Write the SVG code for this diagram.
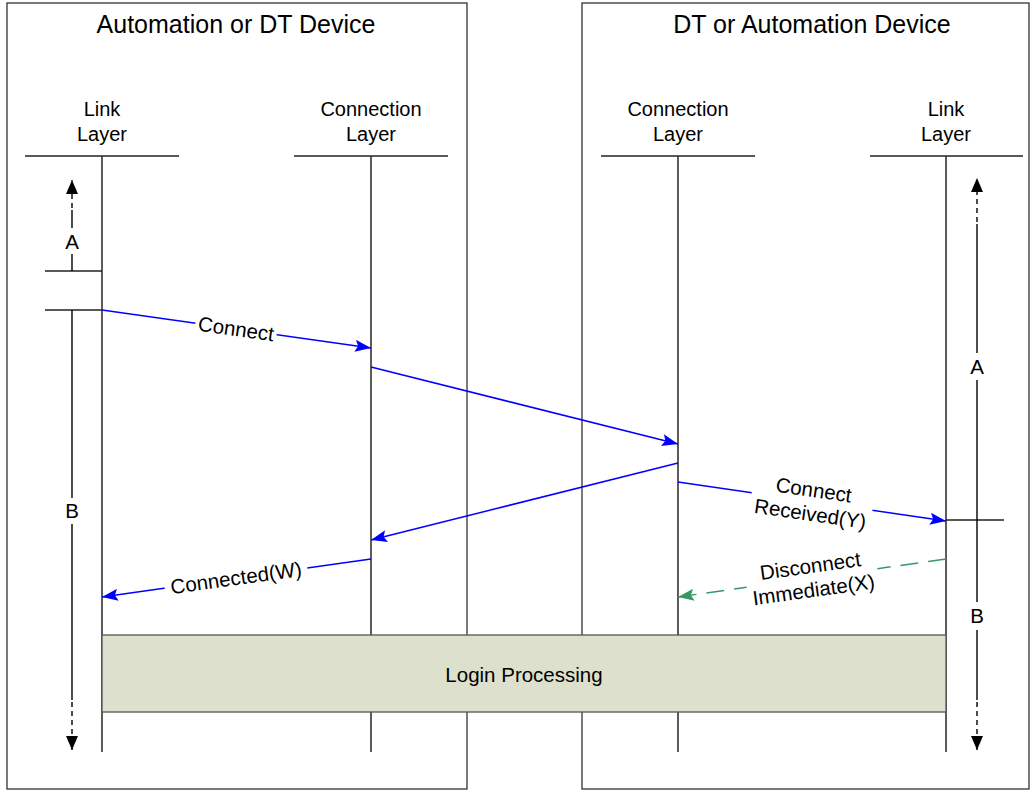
<svg xmlns="http://www.w3.org/2000/svg" width="1032" height="792" viewBox="0 0 1032 792">
<defs>
<style>
text{font-family:"Liberation Sans",Arial,sans-serif;fill:#000}
.title{font-size:25px;text-anchor:middle}
.hdr{font-size:20px;text-anchor:middle}
.lbl{font-size:20.5px;text-anchor:middle}
.frame{fill:#fff;stroke:#222;stroke-width:1.2}
.life{stroke:#333;stroke-width:1.6;fill:none}
.hline{stroke:#222;stroke-width:1.3}
.msg{stroke:#0000ff;stroke-width:1.5;fill:none;marker-end:url(#ab)}
.msgg{stroke:#339966;stroke-width:1.5;fill:none;stroke-dasharray:18,10;marker-end:url(#ag)}
.span{stroke:#000;stroke-width:1.4;fill:none}
.dash{stroke:#000;stroke-width:1.4;fill:none;stroke-dasharray:5,4}
</style>
<marker id="ab" markerWidth="16" markerHeight="12" refX="16" refY="6" orient="auto" markerUnits="userSpaceOnUse"><path d="M0,0 L16,6 L0,12 L3,6 Z" fill="#0000ff"/></marker>
<marker id="ag" markerWidth="16" markerHeight="12" refX="16" refY="6" orient="auto" markerUnits="userSpaceOnUse"><path d="M0,0 L16,6 L0,12 L3,6 Z" fill="#339966"/></marker>
<marker id="ak" markerWidth="14" markerHeight="12" refX="14" refY="6" orient="auto" markerUnits="userSpaceOnUse"><path d="M0,0 L14,6 L0,12 Z" fill="#000"/></marker>
</defs>
<rect width="1032" height="792" fill="#fff"/>

<g id="device-left">
<rect class="frame" x="7" y="3" width="460" height="786"/>
<text class="title" x="236" y="33">Automation or DT Device</text>
</g>
<g id="device-right">
<rect class="frame" x="582" y="3" width="447" height="786"/>
<text class="title" x="812" y="33">DT or Automation Device</text>
</g>

<g id="link-layer-left">
<text class="hdr" x="102" y="116">Link</text>
<text class="hdr" x="102" y="141">Layer</text>
<line class="hline" x1="25" y1="156" x2="179" y2="156"/>
<line class="life" x1="102" y1="156" x2="102" y2="752"/>
</g>
<g id="connection-layer-left">
<text class="hdr" x="371" y="116">Connection</text>
<text class="hdr" x="371" y="141">Layer</text>
<line class="hline" x1="294" y1="156" x2="448" y2="156"/>
<line class="life" x1="371" y1="156" x2="371" y2="752"/>
</g>
<g id="connection-layer-right">
<text class="hdr" x="678" y="116">Connection</text>
<text class="hdr" x="678" y="141">Layer</text>
<line class="hline" x1="601" y1="156" x2="755" y2="156"/>
<line class="life" x1="678" y1="156" x2="678" y2="752"/>
</g>
<g id="link-layer-right">
<text class="hdr" x="946" y="116">Link</text>
<text class="hdr" x="946" y="141">Layer</text>
<line class="hline" x1="870" y1="156" x2="1023" y2="156"/>
<line class="life" x1="946" y1="156" x2="946" y2="752"/>
</g>

<g id="timer-left">
<line class="hline" x1="45" y1="271" x2="102" y2="271"/>
<line class="hline" x1="45" y1="310" x2="102" y2="310"/>
<line class="span" x1="72" y1="271" x2="72" y2="254"/>
<text class="lbl" x="72" y="249">A</text>
<line class="span" x1="72" y1="228" x2="72" y2="210"/>
<line class="dash" x1="72" y1="208" x2="72" y2="180" marker-end="url(#ak)"/>
<line class="span" x1="72" y1="310" x2="72" y2="498"/>
<text class="lbl" x="72" y="518">B</text>
<line class="span" x1="72" y1="524" x2="72" y2="700"/>
<line class="dash" x1="72" y1="702" x2="72" y2="750" marker-end="url(#ak)"/>
</g>

<g id="timer-right">
<line class="hline" x1="946" y1="520" x2="1004" y2="520"/>
<line class="dash" x1="977" y1="222" x2="977" y2="178" marker-end="url(#ak)"/>
<line class="span" x1="977" y1="224" x2="977" y2="353"/>
<text class="lbl" x="977" y="374">A</text>
<line class="span" x1="977" y1="380" x2="977" y2="520"/>
<line class="span" x1="977" y1="520" x2="977" y2="602"/>
<text class="lbl" x="977" y="623">B</text>
<line class="span" x1="977" y1="630" x2="977" y2="700"/>
<line class="dash" x1="977" y1="702" x2="977" y2="750" marker-end="url(#ak)"/>
</g>

<g id="connectors">
<line class="msg" x1="102" y1="310" x2="371" y2="348"/>
<line class="msg" x1="371" y1="367" x2="678" y2="444"/>
<line class="msg" x1="678" y1="463" x2="371" y2="540"/>
<line class="msg" x1="678" y1="482" x2="946" y2="521"/>
<line class="msg" x1="371" y1="559" x2="102" y2="597"/>
<line class="msgg" x1="946" y1="559" x2="678" y2="597"/>
<g transform="translate(236,329) rotate(8)">
<rect x="-41" y="-11" width="82" height="22" fill="#fff"/>
<text class="lbl" x="0" y="7">Connect</text>
</g>
<g transform="translate(812,502) rotate(8.2)">
<rect x="-61" y="-24" width="122" height="48" fill="#fff"/>
<text class="lbl" x="0" y="-5">Connect</text>
<text class="lbl" x="0" y="19">Received(Y)</text>
</g>
<g transform="translate(236,578) rotate(-8)">
<rect x="-72" y="-11" width="144" height="22" fill="#fff"/>
<text class="lbl" x="0" y="7">Connected(W)</text>
</g>
<g transform="translate(812,578) rotate(-8)">
<rect x="-66" y="-24" width="132" height="48" fill="#fff"/>
<text class="lbl" x="0" y="-5">Disconnect</text>
<text class="lbl" x="0" y="19">Immediate(X)</text>
</g>
</g>

<g id="login-processing">
<rect x="102" y="635" width="844" height="77" fill="#dde0cc" stroke="#555" stroke-width="1.3"/>
<text class="lbl" x="524" y="682">Login Processing</text>
</g>
</svg>
